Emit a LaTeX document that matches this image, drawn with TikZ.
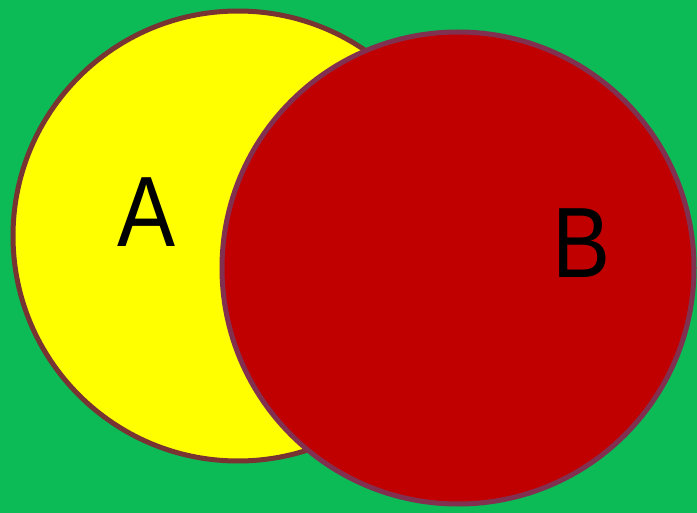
\documentclass[tikz,border=0pt]{standalone}
\usepackage{fontspec}
\setmainfont{Liberation Sans}
\definecolor{bg}{RGB}{12,186,86}
\definecolor{ylw}{RGB}{255,255,0}
\definecolor{rd}{RGB}{192,0,0}
\definecolor{rimA}{RGB}{120,52,50}
\definecolor{rimB}{RGB}{130,48,80}
\tikzset{
  setcircle/.style={circle, line width=5pt, inner sep=0pt},
  setlabel/.style={font=\fontsize{100}{100}\selectfont, text=black, xscale=0.87, inner sep=0pt}
}
\begin{document}
\begin{tikzpicture}[x=1pt,y=-1pt]
\fill[bg] (0,0) rectangle (697,513);
\useasboundingbox (0,0) rectangle (697,513);
\node[setcircle, fill=ylw, draw=rimA, minimum size=450pt] (A) at (238,236) {};
\node[setcircle, fill=rd, draw=rimB, minimum size=472pt] (B) at (458,268) {};
\node[setlabel] (la) at (147,212) {A};
\node[setlabel] (lb) at (582,243) {B};
\end{tikzpicture}
\end{document}
